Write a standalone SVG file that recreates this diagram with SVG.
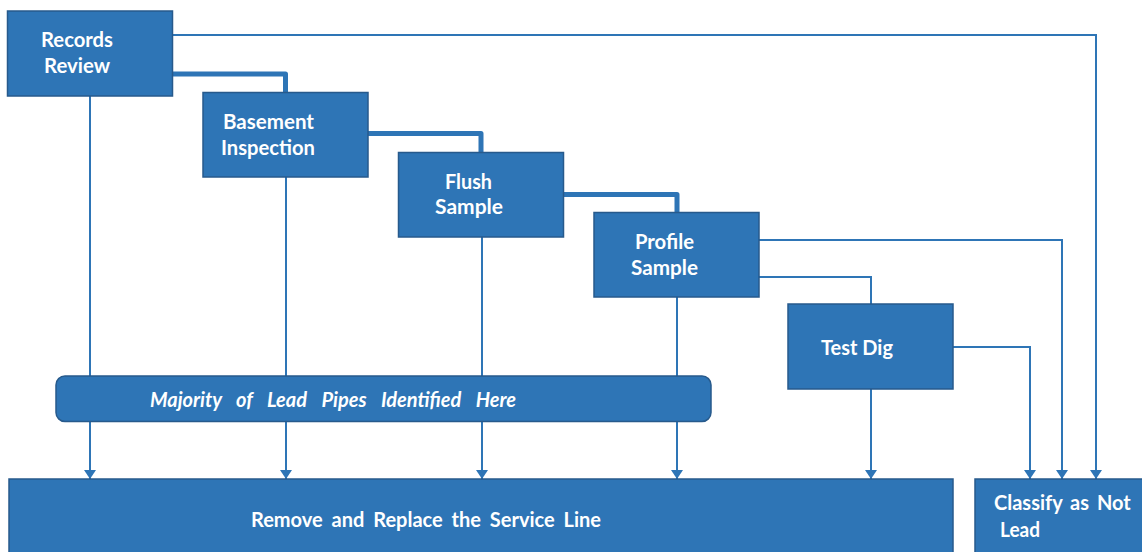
<svg xmlns="http://www.w3.org/2000/svg" width="1142" height="552" viewBox="0 0 1142 552">
<style>
.box{fill:#2E75B6;stroke:#275A8C;stroke-width:1.5}
.t{fill:#fff;font-family:Lato,"Liberation Sans",sans-serif;font-weight:bold;font-size:20px}
.it{font-style:italic;font-size:20px}
.thin{fill:none;stroke:#2E75B6;stroke-width:2}
.thick{fill:none;stroke:#2E75B6;stroke-width:5;stroke-linejoin:round}
</style>
<defs>
<marker id="arr" markerUnits="userSpaceOnUse" markerWidth="10" markerHeight="12" refX="9" refY="6" orient="auto" viewBox="0 0 10 12">
<path d="M0,0 L9,6 L0,12 Z" fill="#2E75B6"/>
</marker>
</defs>
<rect width="1142" height="552" fill="#fff"/>
<g id="connectors">
<path class="thick" d="M172,74 H285.5 V92"/>
<path class="thick" d="M368,133.5 H481 V152"/>
<path class="thick" d="M563,194.5 H677 V212"/>
<path class="thin" d="M172,35 H1096 V479" marker-end="url(#arr)"/>
<path class="thin" d="M759,240 H1062 V479" marker-end="url(#arr)"/>
<path class="thin" d="M759,277 H871 V304"/>
<path class="thin" d="M953,347 H1030 V479" marker-end="url(#arr)"/>
<path class="thin" d="M90,96 V479" marker-end="url(#arr)"/>
<path class="thin" d="M286,177 V479" marker-end="url(#arr)"/>
<path class="thin" d="M482,237 V479" marker-end="url(#arr)"/>
<path class="thin" d="M677,297 V479" marker-end="url(#arr)"/>
<path class="thin" d="M871,389 V479" marker-end="url(#arr)"/>
</g>
<g id="records-review">
<rect class="box" x="7.5" y="11" width="165" height="85"/>
<text class="t" x="41" y="47" textLength="72" lengthAdjust="spacingAndGlyphs">Records</text>
<text class="t" x="44" y="73" textLength="66" lengthAdjust="spacingAndGlyphs">Review</text>
</g>
<g id="basement-inspection">
<rect class="box" x="203" y="92.5" width="165" height="84.5"/>
<text class="t" x="223" y="129" textLength="91" lengthAdjust="spacingAndGlyphs">Basement</text>
<text class="t" x="221" y="154.5" textLength="94" lengthAdjust="spacingAndGlyphs">Inspection</text>
</g>
<g id="flush-sample">
<rect class="box" x="398.5" y="152.5" width="165" height="84.5"/>
<text class="t" x="445" y="189" textLength="47" lengthAdjust="spacingAndGlyphs">Flush</text>
<text class="t" x="435" y="214" textLength="68" lengthAdjust="spacingAndGlyphs">Sample</text>
</g>
<g id="profile-sample">
<rect class="box" x="594" y="212.5" width="165" height="84.5"/>
<text class="t" x="635" y="249" textLength="59" lengthAdjust="spacingAndGlyphs">Profile</text>
<text class="t" x="631" y="275" textLength="67" lengthAdjust="spacingAndGlyphs">Sample</text>
</g>
<g id="test-dig">
<rect class="box" x="788" y="304" width="165" height="85"/>
<text class="t" x="821" y="355" textLength="72" lengthAdjust="spacingAndGlyphs">Test Dig</text>
</g>
<g id="majority">
<rect class="box" x="56" y="376" width="655" height="45.5" rx="9"/>
<text class="t it" x="150" y="407" word-spacing="10">Majority of Lead Pipes Identified Here</text>
</g>
<g id="remove-replace">
<rect class="box" x="9" y="479" width="944" height="80"/>
<text class="t" x="251" y="527" word-spacing="4">Remove and Replace the Service Line</text>
</g>
<g id="classify-not-lead">
<rect class="box" x="975" y="479" width="180" height="80"/>
<text class="t" x="994" y="510" word-spacing="3">Classify as Not</text>
<text class="t" x="1000" y="537" textLength="40" lengthAdjust="spacingAndGlyphs">Lead</text>
</g>
</svg>
